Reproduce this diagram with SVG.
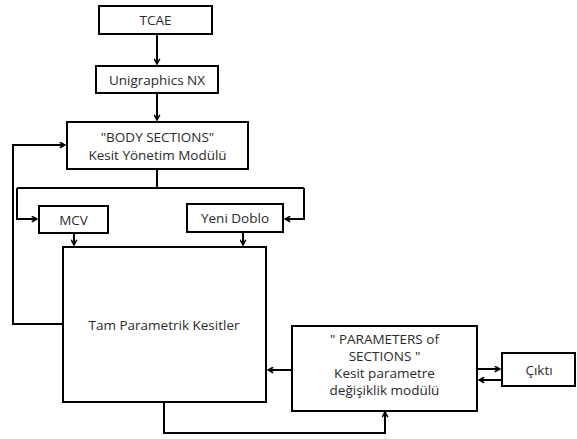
<svg xmlns="http://www.w3.org/2000/svg" width="577" height="439" viewBox="0 0 577 439">
<defs>
<marker id="ah" viewBox="0 0 10 10" refX="9" refY="5" markerWidth="7" markerHeight="7" orient="auto" markerUnits="userSpaceOnUse">
<path d="M1.5,1 L9,5 L1.5,9" fill="none" stroke="#000" stroke-width="2.2"/>
</marker>
<style>
.box{fill:#fff;stroke:#000;stroke-width:2}
.t{font-family:"Open Sans","Liberation Sans",sans-serif;font-size:13.5px;fill:#2a2a2a;text-anchor:middle}
.c{fill:none;stroke:#000;stroke-width:2}
</style>
</defs>
<rect width="577" height="439" fill="#fff"/>
<g id="connectors">
<path class="c" d="M157,34 V64" marker-end="url(#ah)"/>
<path class="c" d="M157,93 V120" marker-end="url(#ah)"/>
<path class="c" d="M63,324 H13 V145 H65" marker-end="url(#ah)"/>
<path class="c" d="M157,169 V188"/>
<path class="c" d="M17,188 H304"/>
<path class="c" d="M17,188 V219 H37" marker-end="url(#ah)"/>
<path class="c" d="M304,188 V219 H285" marker-end="url(#ah)"/>
<path class="c" d="M74,233 V245" marker-end="url(#ah)"/>
<path class="c" d="M243,232 V245" marker-end="url(#ah)"/>
<path class="c" d="M292,370 H268" marker-end="url(#ah)"/>
<path class="c" d="M164,402 V433 H385 V412" marker-end="url(#ah)"/>
<path class="c" d="M477,369 H500" marker-end="url(#ah)"/>
<path class="c" d="M502,380 H479" marker-end="url(#ah)"/>
</g>
<g id="tcae"><rect class="box" x="99" y="6" width="113" height="28"/><text class="t" x="155.5" y="25">TCAE</text></g>
<g id="unigraphics"><rect class="box" x="96" y="66" width="122" height="27"/><text class="t" x="157" y="84.5">Unigraphics NX</text></g>
<g id="body"><rect class="box" x="67" y="122" width="181" height="47"/><text class="t" x="157.5" y="142">"BODY SECTIONS"</text><text class="t" x="157.5" y="160">Kesit Yönetim Modülü</text></g>
<g id="mcv"><rect class="box" x="39" y="206" width="69" height="27"/><text class="t" x="73.5" y="224.5">MCV</text></g>
<g id="doblo"><rect class="box" x="187" y="204" width="96" height="28"/><text class="t" x="235" y="222.5">Yeni Doblo</text></g>
<g id="tam"><rect class="box" x="63" y="247" width="203" height="155"/><text class="t" x="164" y="330">Tam Parametrik Kesitler</text></g>
<g id="params"><rect class="box" x="292" y="326" width="185" height="85"/>
<text class="t" x="384.5" y="344">" PARAMETERS of</text>
<text class="t" x="384.5" y="361">SECTIONS "</text>
<text class="t" x="384.5" y="378">Kesit parametre</text>
<text class="t" x="384.5" y="394.5">değişiklik modülü</text></g>
<g id="cikti"><rect class="box" x="502" y="353" width="73" height="33"/><text class="t" x="539" y="374.5">Çıktı</text></g>
</svg>
